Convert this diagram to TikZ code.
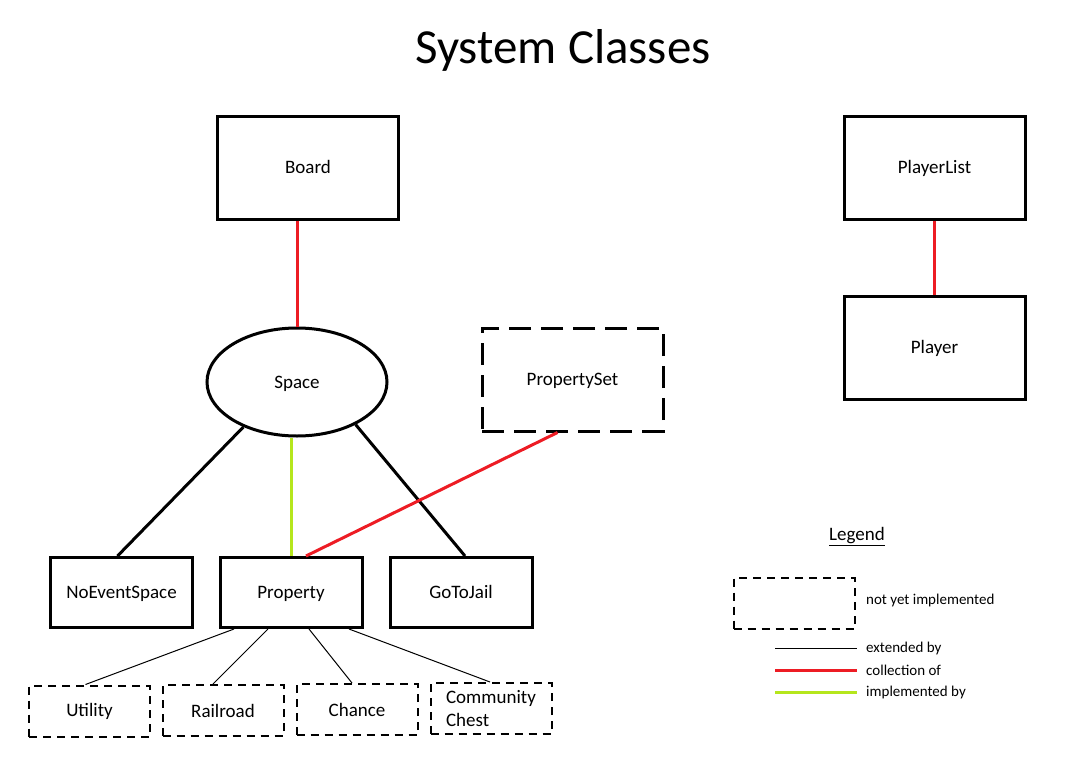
\documentclass[tikz,border=0pt]{standalone}
\usepackage{fontspec}
\setmainfont{Carlito}
\usetikzlibrary{shapes.geometric,calc}
\definecolor{paintred}{RGB}{237,28,36}
\definecolor{paintgreen}{RGB}{181,230,29}
\newcommand{\collectcolor}{paintred}
\newcommand{\implcolor}{paintgreen}
\newcommand{\linew}{3pt}
\newcommand{\thinw}{1pt}

\begin{document}
\begin{tikzpicture}[x=1pt,y=-1pt,
  cls/.style={draw, line width=\linew, minimum width=181pt, minimum height=103pt, inner sep=0pt, text height=15pt, text depth=3pt, font=\fontsize{19}{23}\selectfont},
  sub/.style={draw, line width=\linew, minimum width=142pt, minimum height=70pt, inner sep=0pt, text height=15pt, text depth=3pt, font=\fontsize{19}{23}\selectfont},
  todo/.style={draw, line width=2pt, dash pattern=on 8pt off 6pt, minimum width=121pt, minimum height=51pt, inner sep=0pt, font=\fontsize{19}{23}\selectfont},
  lgd/.style={anchor=west, inner sep=0pt, font=\fontsize{15}{18}\selectfont}]
\useasboundingbox (0,0) rectangle (1081,760);
\node (title) at (563,50) {\fontsize{49}{56}\selectfont System Classes};
%classes
\node[cls] (board) at (308,167.5) {Board};
\node[cls] (plist) at (934.5,167.5) {PlayerList};
\node[cls] (player) at (934.5,347.5) {Player};
\node[draw, ellipse, line width=\linew, minimum width=180pt, minimum height=108pt, inner sep=0pt, text height=15pt, text depth=3pt, font=\fontsize{19}{23}\selectfont] (space) at (297,382) {Space};
\node[cls, dash pattern=on 22pt off 10pt] (pset) at (572.5,379.5) {PropertySet};
\node[sub] (noevent) at (121.5,592.5) {NoEventSpace};
\node[sub] (prop) at (291,592.5) {Property};
\node[sub] (jail) at (461,592.5) {GoToJail};
%not yet implemented
\node[todo] (util) at (89.5,711) {Utility};
\node[todo] (rail) at (223,710.5) {Railroad};
\node[todo] (chance) at (357,709.5) {Chance};
\node[todo, align=left] (chest) at (491,708.5) {Community\\Chest};
%connectors
\draw[\collectcolor] [line width = \linew] (board.south -| space.north) -- (space.north);
\draw[\collectcolor] [line width = \linew] (plist) -- (player);
\draw[black] [line width = \linew] (space.220) -- ([xshift=-4pt]noevent.north);
\draw[black] [line width = \linew] (space.324) -- ([xshift=4pt]jail.north);
\draw[\implcolor] [line width = \linew] (space.south -| prop.north) -- (prop.north);
\draw[\collectcolor] [line width = \linew] ([xshift=-15pt]pset.south) -- ([xshift=15pt]prop.north);
\draw[black] [line width = \thinw] ([xshift=-57pt]prop.south) -- ([xshift=-4pt]util.north);
\draw[black] [line width = \thinw] ([xshift=-23pt]prop.south) -- ([xshift=-10pt]rail.north);
\draw[black] [line width = \thinw] ([xshift=18pt]prop.south) -- ([xshift=-5pt]chance.north);
\draw[black] [line width = \thinw] ([xshift=58pt]prop.south) -- ([xshift=-1pt]chest.north);
%legend
\node (legend) at (857,537) {\fontsize{19}{22}\selectfont\underline{Legend}};
\node[todo] (lbox) at (794,603) {};
\node[lgd] (ltodo) at (866,600) {not yet implemented};
\coordinate (ext a) at (775,648);
\coordinate (ext b) at (857,648);
\coordinate (col a) at (775,670);
\coordinate (col b) at (857,670);
\coordinate (imp a) at (775,692);
\coordinate (imp b) at (857,692);
\draw[black] [line width = \thinw] (ext a) -- (ext b);
\draw[\collectcolor] [line width = \linew] (col a) -- (col b);
\draw[\implcolor] [line width = \linew] (imp a) -- (imp b);
\node[lgd] (lext) at (866,648) {extended by};
\node[lgd] (lcol) at (866,670) {collection of};
\node[lgd] (limp) at (866,692) {implemented by};
\end{tikzpicture}
\end{document}
